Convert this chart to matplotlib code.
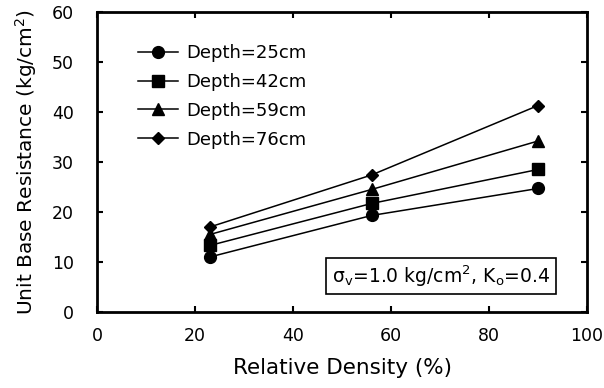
import numpy as np
import matplotlib
matplotlib.use('Agg')
import matplotlib.pyplot as plt

plt.rcParams['font.family'] = ['DejaVu Sans']
plt.rcParams['mathtext.fontset'] = 'dejavusans'

# data
density = [23, 56, 90]
depth_labels = ['Depth=25cm', 'Depth=42cm', 'Depth=59cm', 'Depth=76cm']
res_25 = [11.0, 19.3, 24.7]
res_42 = [13.3, 21.7, 28.5]
res_59 = [15.5, 24.5, 34.2]
res_76 = [17.0, 27.4, 41.3]
markers = ['o', 's', '^', 'D']
msizes = [8.5, 8.5, 9, 6.5]

fig = plt.figure(figsize=(6.04, 3.88), dpi=100)
ax = fig.add_axes([0.161, 0.196, 0.811, 0.773])

for vals, lab, m, ms in zip([res_25, res_42, res_59, res_76], depth_labels, markers, msizes):
    ax.plot(density, vals, color='black', lw=1.1, marker=m, ms=ms, label=lab)

ax.set_xlim(0, 100)
ax.set_ylim(0, 60)
ax.set_xticks(np.arange(0, 101, 20))
ax.set_yticks(np.arange(0, 61, 10))
ax.tick_params(direction='in', top=True, right=True, length=4, width=1.5,
               labelsize=12.5)
ax.tick_params(axis='x', pad=11)
ax.tick_params(axis='y', pad=17)
for s in ax.spines.values():
    s.set_linewidth(2)

ax.set_xlabel('Relative Density (%)', fontsize=15.5, labelpad=9)
ax.set_ylabel('Unit Base Resistance (kg/cm$^2$)', fontsize=14.5, labelpad=9)

leg = ax.legend(loc='upper left', bbox_to_anchor=(0.084, 0.893), frameon=False,
                fontsize=13, handlelength=2.2, handletextpad=0.45, labelspacing=0.6,
                borderaxespad=0, borderpad=0)

ax.text(70.2, 7.2, 'σ$_{\\rm v}$=1.0 kg/cm$^2$, K$_{\\rm o}$=0.4', fontsize=13.5,
        ha='center', va='center',
        bbox=dict(boxstyle='square,pad=0.3', fc='white', ec='black', lw=1.2))

fig.savefig('out.png', dpi=100)
